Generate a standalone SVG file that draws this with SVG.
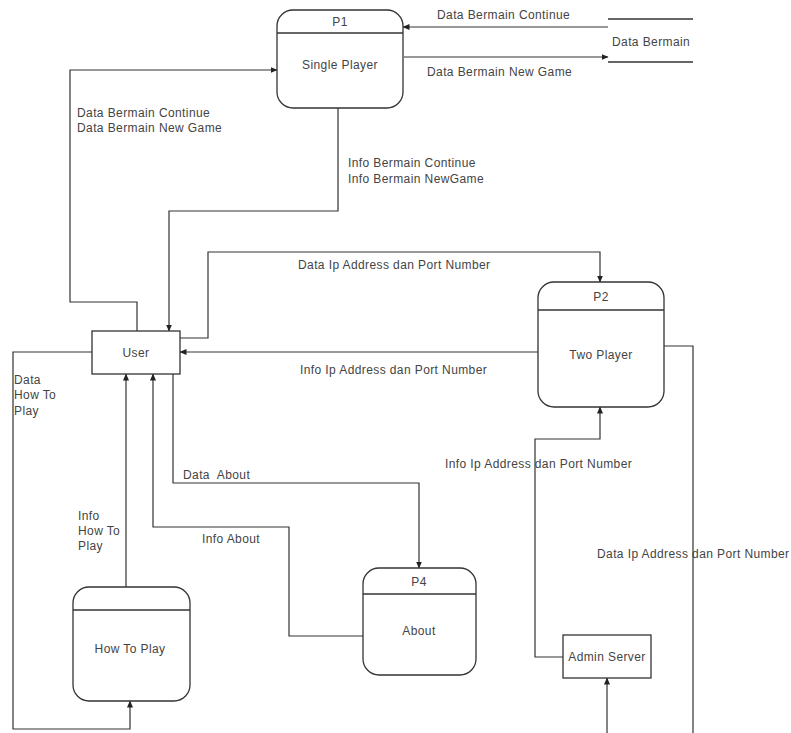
<svg xmlns="http://www.w3.org/2000/svg" width="791" height="733" viewBox="0 0 791 733">
<style>
  text { font-family: "Liberation Sans", Arial, sans-serif; font-size: 12px; fill: #444; letter-spacing: 0.4px; }
  .c { text-anchor: middle; }
  .shape { fill: #fff; stroke: #333; stroke-width: 1.3; }
  .line { fill: none; stroke: #333; stroke-width: 1.3; }
  .flow { fill: none; stroke: #333; stroke-width: 1.2; }
</style>
<defs>
  <marker id="arr" markerWidth="7" markerHeight="6" refX="6.5" refY="3" orient="auto" markerUnits="userSpaceOnUse">
    <path d="M0,0 L7,3 L0,6 Z" fill="#222"/>
  </marker>
</defs>
<rect width="791" height="733" fill="#fff"/>

<g id="connectors">
  <path class="flow" d="M137,331 V302 H70 V70 H277" marker-end="url(#arr)"/>
  <path class="flow" d="M338,108 V211 H169 V331" marker-end="url(#arr)"/>
  <path class="flow" d="M608,27 H403" marker-end="url(#arr)"/>
  <path class="flow" d="M404,57 H608" marker-end="url(#arr)"/>
  <path class="flow" d="M180,338 H208 V252 H600 V282" marker-end="url(#arr)"/>
  <path class="flow" d="M538,352 H180" marker-end="url(#arr)"/>
  <path class="flow" d="M664,346 H693 V733"/>
  <path class="flow" d="M607,733 V678" marker-end="url(#arr)"/>
  <path class="flow" d="M563,657 H535 V439 H600 V407" marker-end="url(#arr)"/>
  <path class="flow" d="M126,587 V374" marker-end="url(#arr)"/>
  <path class="flow" d="M363,636 H289 V527 H153 V374" marker-end="url(#arr)"/>
  <path class="flow" d="M173,374 V483 H419 V568" marker-end="url(#arr)"/>
  <path class="flow" d="M92,352 H13 V729 H130 V701" marker-end="url(#arr)"/>

  <text x="437" y="19">Data Bermain Continue</text>
  <text x="427" y="76">Data Bermain New Game</text>
  <text x="77" y="117">Data Bermain Continue</text>
  <text x="77" y="132">Data Bermain New Game</text>
  <text x="348" y="167">Info Bermain Continue</text>
  <text x="348" y="183">Info Bermain NewGame</text>
  <text x="298" y="269">Data Ip Address dan Port Number</text>
  <text x="300" y="374">Info Ip Address dan Port Number</text>
  <text x="14" y="384">Data</text>
  <text x="14" y="399">How To</text>
  <text x="14" y="415">Play</text>
  <text x="445" y="468">Info Ip Address dan Port Number</text>
  <text x="183" y="479" xml:space="preserve">Data  About</text>
  <text x="78" y="520">Info</text>
  <text x="78" y="535">How To</text>
  <text x="78" y="550">Play</text>
  <text x="202" y="543">Info About</text>
  <text x="597" y="558">Data Ip Address dan Port Number</text>
</g>

<g id="p1">
  <rect class="shape" x="277" y="10" width="126" height="98" rx="16"/>
  <line class="line" x1="277" y1="33" x2="403" y2="33"/>
  <text class="c" x="340" y="26">P1</text>
  <text class="c" x="340" y="69">Single Player</text>
</g>

<g id="data-bermain">
  <line class="line" x1="608" y1="19" x2="693" y2="19"/>
  <line class="line" x1="608" y1="62" x2="693" y2="62"/>
  <text x="612" y="46">Data Bermain</text>
</g>

<g id="user">
  <rect class="shape" x="92" y="331" width="88" height="43"/>
  <text class="c" x="136" y="357">User</text>
</g>

<g id="p2">
  <rect class="shape" x="538" y="282" width="126" height="125" rx="16"/>
  <line class="line" x1="538" y1="310" x2="664" y2="310"/>
  <text class="c" x="601" y="301">P2</text>
  <text class="c" x="601" y="359">Two Player</text>
</g>

<g id="p4">
  <rect class="shape" x="363" y="568" width="113" height="107" rx="16"/>
  <line class="line" x1="363" y1="594" x2="476" y2="594"/>
  <text class="c" x="419" y="586">P4</text>
  <text class="c" x="419" y="635">About</text>
</g>

<g id="how-to-play">
  <rect class="shape" x="73" y="587" width="117" height="114" rx="16"/>
  <line class="line" x1="73" y1="610" x2="190" y2="610"/>
  <text class="c" x="130" y="653">How To Play</text>
</g>

<g id="admin-server">
  <rect class="shape" x="563" y="635" width="88" height="43"/>
  <text class="c" x="607" y="661">Admin Server</text>
</g>
</svg>
